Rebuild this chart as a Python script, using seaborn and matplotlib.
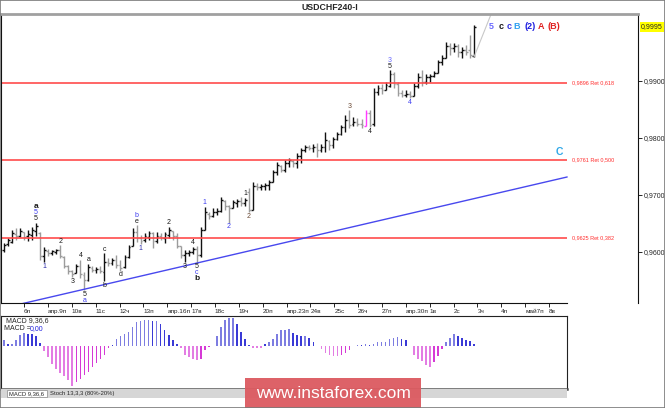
import numpy as np
import pandas as pd
import matplotlib
matplotlib.use("Agg")
import matplotlib.pyplot as plt
from matplotlib.patches import Rectangle
import seaborn as sns

sns.set_style("white")
plt.rcParams['font.family'] = ['Liberation Sans', 'DejaVu Sans']

# 4h OHLC bars of USDCHF, in pips (price * 10000)
bar_high = [9616, 9624, 9639, 9642, 9642, 9635, 9639, 9644, 9651, 9635,
            9609, 9605, 9603, 9605, 9612, 9593, 9577, 9568, 9579, 9586,
            9565, 9579, 9575, 9574, 9575, 9598, 9589, 9589, 9595, 9586,
            9595, 9612, 9642, 9647, 9630, 9633, 9637, 9635, 9635, 9633,
            9635, 9644, 9637, 9633, 9610, 9603, 9603, 9609, 9610, 9644,
            9679, 9670, 9677, 9677, 9696, 9691, 9682, 9691, 9693, 9696,
            9695, 9712, 9723, 9721, 9719, 9721, 9726, 9744, 9758, 9753,
            9761, 9765, 9761, 9774, 9782, 9788, 9788, 9790, 9791, 9790,
            9810, 9796, 9802, 9810, 9823, 9840, 9849, 9837, 9835, 9833,
            9849, 9849, 9888, 9893, 9895, 9898, 9919, 9916, 9898, 9884,
            9884, 9882, 9896, 9914, 9919, 9912, 9912, 9917, 9937, 9946,
            9968, 9967, 9967, 9965, 9960, 9963, 9981, 9998]
bar_low = [9600, 9610, 9616, 9621, 9626, 9621, 9619, 9621, 9628, 9586,
           9582, 9593, 9595, 9596, 9589, 9572, 9561, 9556, 9563, 9554,
           9533, 9549, 9565, 9563, 9563, 9549, 9575, 9577, 9572, 9567,
           9572, 9589, 9610, 9617, 9614, 9617, 9621, 9607, 9616, 9621,
           9616, 9624, 9621, 9607, 9589, 9582, 9593, 9596, 9581, 9591,
           9639, 9658, 9661, 9665, 9670, 9674, 9651, 9677, 9679, 9681,
           9681, 9670, 9674, 9709, 9709, 9709, 9709, 9723, 9735, 9740,
           9740, 9749, 9749, 9747, 9756, 9775, 9779, 9775, 9767, 9775,
           9775, 9779, 9782, 9796, 9805, 9810, 9818, 9821, 9821, 9818,
           9821, 9819, 9821, 9875, 9877, 9884, 9889, 9888, 9874, 9872,
           9872, 9870, 9874, 9888, 9891, 9895, 9898, 9907, 9914, 9928,
           9940, 9946, 9951, 9942, 9940, 9946, 9940, 9942]
bar_open = [9603, 9614, 9617, 9632, 9628, 9635, 9628, 9630, 9637, 9633,
            9593, 9602, 9598, 9600, 9603, 9591, 9575, 9567, 9563, 9575,
            9560, 9551, 9572, 9568, 9570, 9565, 9582, 9581, 9586, 9577,
            9574, 9591, 9610, 9635, 9624, 9621, 9626, 9633, 9619, 9628,
            9624, 9630, 9637, 9628, 9610, 9595, 9598, 9600, 9605, 9595,
            9639, 9667, 9663, 9670, 9672, 9689, 9681, 9677, 9686, 9689,
            9686, 9705, 9674, 9716, 9714, 9716, 9717, 9723, 9740, 9751,
            9744, 9756, 9760, 9756, 9768, 9779, 9784, 9782, 9784, 9779,
            9784, 9795, 9788, 9798, 9807, 9819, 9832, 9825, 9828, 9825,
            9821, 9844, 9825, 9881, 9888, 9884, 9891, 9912, 9895, 9879,
            9875, 9877, 9874, 9891, 9907, 9898, 9907, 9909, 9914, 9933,
            9940, 9961, 9958, 9961, 9951, 9954, 9954, 9944]
bar_close = [9612, 9621, 9633, 9628, 9637, 9626, 9632, 9639, 9646, 9593,
             9603, 9598, 9602, 9603, 9593, 9575, 9567, 9561, 9575, 9561,
             9551, 9574, 9568, 9570, 9567, 9582, 9581, 9586, 9577, 9572,
             9591, 9609, 9635, 9624, 9619, 9628, 9633, 9619, 9628, 9624,
             9632, 9639, 9628, 9610, 9595, 9598, 9600, 9605, 9595, 9639,
             9670, 9663, 9670, 9672, 9691, 9681, 9677, 9688, 9689, 9686,
             9691, 9674, 9716, 9714, 9716, 9717, 9723, 9740, 9753, 9744,
             9756, 9761, 9756, 9768, 9779, 9784, 9782, 9784, 9779, 9784,
             9796, 9788, 9798, 9807, 9819, 9832, 9823, 9828, 9825, 9823,
             9844, 9823, 9881, 9888, 9884, 9893, 9912, 9895, 9879, 9875,
             9877, 9874, 9891, 9907, 9898, 9907, 9909, 9914, 9933, 9940,
             9961, 9958, 9961, 9951, 9954, 9951, 9946, 9995]

# MACD(9,36,6) histogram, 1e-5 units
macd_hist = [17, 5, 7, 17, 32, 40, 37, 35, 29, 9,
             -15, -33, -53, -68, -81, -91, -103, -120, -108, -98,
             -88, -78, -63, -51, -38, -28, -6, 2, 22, 29,
             37, 42, 57, 72, 75, 77, 79, 75, 75, 67,
             47, 32, 19, 5, -6, -28, -33, -38, -43, -38,
             -13, -3, 1, 29, 57, 79, 85, 85, 67,
             42, 22, 4, -5, -6, -6, 5, 12, 22, 35,
             47, 49, 52, 39, 32, 29, 30, 25, 12, 1,
             -8, -21, -26, -30, -31, -26, -21, -11, -1, 4,
             2, 5, 4, 5, 11, 12, 12, 22, 25, 27,
             22, 17, 1, -28, -38, -46, -58, -63, -48, -31,
             -8, 12, 25, 35, 31, 24, 17, 15, 7]

day_labels = ["6п", "апр.9п", "10в", "11с", "12ч", "13п", "апр.16п", "17в",
              "18с", "19ч", "20п", "апр.23п", "24в", "25с", "26ч", "27п",
              "апр.30п", "1в", "2с", "3ч", "4п", "май7п", "8в"]

fib_levels = [0.9896, 0.9761, 0.9625]
fib_names = ["0,9896 Ret 0,618", "0,9761 Ret 0,500", "0,9625 Ret 0,382"]

# support line and the small ray from the last bar (bar index, price)
trend_x = [4.2, 140.2]
trend_y = [0.95088, 0.97316]
ray_x = [117, 121.3]
ray_y = [0.9942, 1.0018]

# wave marks: bar, side (h/l), stack level, text, colour key, bold
waves = [
    (8, "h", 0, "5", "k", False), (8, "h", 1, "5", "b", False), (8, "h", 2, "a", "k", True),
    (10, "l", 0, "1", "n", False), (14, "h", 0, "2", "k", False),
    (17, "l", 0, "3", "k", False), (19, "h", 0, "4", "k", False),
    (20, "l", 0, "5", "k", False), (20, "l", 1, "a", "b", False),
    (21, "h", 0, "a", "k", False), (25, "h", 0, "c", "k", False),
    (25, "l", 0, "b", "k", False), (29, "l", 0, "d", "k", False),
    (33, "h", 0, "e", "k", False), (33, "h", 1, "b", "b", False),
    (34, "l", 0, "1", "n", False), (41, "h", 0, "2", "k", False),
    (45, "l", 0, "3", "k", False), (47, "h", 0, "4", "k", False),
    (48, "l", 0, "5", "k", False), (48, "l", 1, "c", "b", False), (48, "l", 2, "b", "k", True),
    (50, "h", 0, "1", "b", False), (56, "l", 0, "2", "b", False),
    (60, "h", 0, "1", "k", False), (61, "l", 0, "2", "r", False),
    (86, "h", 0, "3", "r", False), (91, "l", 0, "4", "k", False),
    (96, "h", 0, "5", "k", False), (96, "h", 1, "3", "p", False),
    (101, "l", 0, "4", "b", False),
]
wave_cols = {"k": "#1a1a1a", "b": "#3c3cf0", "n": "#2a2aa8", "r": "#6b4a35", "p": "#6a6aff"}

top_marks = [("5", "#6a6aff"), ("c", "#1a1a1a"), ("c", "#3030e0"), ("B", "#2fa0f0"),
             ("(2)", "#1f1fe0"), ("A", "#e02020"), ("(B)", "#e02020")]

W, H = 665, 408
PX0, PXW = 4, 4.017            # pixel x of bar 0 and bar spacing
def bx(px):
    return (px - PX0) / PXW
def fx(px):
    return px / W
def fy(py):
    return 1 - py / H

fig = plt.figure(figsize=(6.65, 4.08), dpi=100)
ax = fig.add_axes([fx(1), fy(303), fx(637), (303 - 14) / H])
ax2 = fig.add_axes([fx(1), fy(389), fx(566), (389 - 316) / H])

# ---- price bars
hi = np.array(bar_high) / 1e4
lo = np.array(bar_low) / 1e4
op = np.array(bar_open) / 1e4
cl = np.array(bar_close) / 1e4
idx = np.arange(len(hi))
cols = np.where(cl >= op, "#111111", "#9c9c9c").astype(object)
highlight_bar = 90
cols[highlight_bar] = "#ff3cff"
ax.vlines(idx, lo, hi, colors=cols, lw=1)
ax.hlines(op, idx - 0.45, idx, colors=cols, lw=1)
ax.hlines(cl, idx, idx + 0.45, colors=cols, lw=1)

x_end = bx(567)
ax.hlines(fib_levels, bx(1), x_end, colors="#ff4b4b", lw=1.2)
for lv, nm in zip(fib_levels, fib_names):
    ax.text(bx(572), lv, nm, color="#ff3030", fontsize=4, va="center", ha="left")

sns.lineplot(x=trend_x, y=trend_y, ax=ax, color="#4848ee", lw=1)
sns.lineplot(x=ray_x, y=ray_y, ax=ax, color="#c8c8c8", lw=0.8)

for b, side, lev, txt, ck, bold in waves:
    off = (4 + 6 * lev) * 0.72
    y = hi[b] if side == "h" else lo[b]
    ax.annotate(txt, (b, y), xytext=(0, off if side == "h" else -off),
                textcoords="offset points", ha="center", va="center",
                fontsize=6 if bold else 5, color=wave_cols[ck],
                fontweight="bold" if bold else "normal")

top_px = [491, 501, 509, 517, 530, 541, 554]
for (txt, c), px in zip(top_marks, top_px):
    ax.text(bx(px), 0.99964, txt, color=c, fontsize=6.5, fontweight="bold",
            ha="center", va="center")
ax.text(bx(559), 0.9775, "C", color="#30a8e8", fontsize=7.5, fontweight="bold",
        ha="center", va="center")

ax.set_xlim(bx(1), bx(638))
ax.set_ylim(0.95105, 1.00175)

day_pos = [5 + 5.94 * k for k in range(len(day_labels))]
ax.set_xticks(day_pos)
ax.set_xticklabels(day_labels)
for t in ax.get_xticklabels():
    t.set_ha("left")
ax.tick_params(axis="x", bottom=True, length=3, width=0.7, labelsize=4.6, pad=1)

ax.yaxis.tick_right()
yt = [0.96, 0.97, 0.98, 0.99]
ax.set_yticks(yt)
ax.set_yticklabels([f"{v:.4f}".replace(".", ",") for v in yt])
ax.tick_params(axis="y", right=True, length=3, width=0.7, labelsize=5, pad=1)
ax.set_xlabel("")
ax.set_ylabel("")

last = cl[-1]
ax.annotate(f"{last:.4f}".replace(".", ","), xy=(1, last), xycoords=ax.get_yaxis_transform(),
            xytext=(2.2, 0), textcoords="offset points", ha="left", va="center",
            fontsize=5, bbox=dict(boxstyle="square,pad=0.2", fc="#ffff00", ec="none"))

for s in ["left", "right", "bottom"]:
    ax.spines[s].set_color("#111111")
    ax.spines[s].set_linewidth(0.8)
ax.spines["top"].set_color("#a0a0a0")
ax.spines["top"].set_linewidth(2)
ax.spines["bottom"].set_bounds(bx(1), x_end)

# ---- MACD panel
h = np.array(macd_hist, dtype=float)
grow = np.abs(h) >= np.abs(np.r_[h[0], h[:-1]])
kind = np.where(h >= 0, np.where(grow, "pl", "pd"), np.where(grow, "nl", "nd"))
df = pd.DataFrame({"i": np.arange(len(h)), "h": h, "kind": kind})
pal = {"pd": "#2020f0", "pl": "#6c6cf2", "nd": "#f020f0", "nl": "#f46cf4"}
sns.barplot(data=df, x="i", y="h", hue="kind", palette=pal, native_scale=True,
            dodge=False, width=0.4, errorbar=None, legend=False, linewidth=0, ax=ax2)
ax2.set_xlim(bx(1), bx(567))
ax2.set_ylim(-129, 90)
ax2.set_xticks([])
ax2.set_yticks([])
ax2.set_xlabel("")
ax2.set_ylabel("")
for s in ax2.spines.values():
    s.set_color("#222222")
    s.set_linewidth(0.8)
ax2.spines["bottom"].set_linewidth(1.8)
ax2.spines["bottom"].set_color("#555555")
ax2.text(fx(6), fy(321), "MACD 9,36,6", transform=fig.transFigure, fontsize=5, va="center")
ax2.text(fx(4), fy(328.5), "MACD =", transform=fig.transFigure, fontsize=5, va="center")
ax2.text(fx(29.5), fy(328.5), "0,00", transform=fig.transFigure, fontsize=5, va="center",
         color="#2020e0")

# tab strip
fig.add_artist(Rectangle((fx(1), fy(398)), fx(566), 9 / H, transform=fig.transFigure,
                         fc="#d6d6d6", ec="none", zorder=3))
fig.add_artist(Rectangle((fx(7), fy(397)), fx(40), 7 / H, transform=fig.transFigure,
                         fc="white", ec="#888888", lw=0.5, zorder=4))
fig.text(fx(9), fy(393.5), "MACD 9,36,6", fontsize=4.2, va="center", zorder=5)
fig.text(fx(50), fy(393.5), "Stoch 13,3,3 (80%-20%)", fontsize=4.2, va="center", zorder=5)

fig.text(fx(330), fy(7), "USDCHF240-I", ha="center", va="center", fontsize=6.3,
         fontweight="bold")

# watermark
fig.add_artist(Rectangle((fx(245), 0), fx(176), 30 / H, transform=fig.transFigure,
                         fc="#dc5a60", ec="none", alpha=0.95, zorder=6))
fig.text(fx(333), fy(394), "www.instaforex.com", ha="center", va="center",
         fontsize=12.5, color="white", zorder=7)

fig.add_artist(Rectangle((0, 0), 1, 1, transform=fig.transFigure, fill=False,
                         ec="#7a7a7a", lw=1.2, zorder=8))

fig.savefig("out.png", dpi=100)
